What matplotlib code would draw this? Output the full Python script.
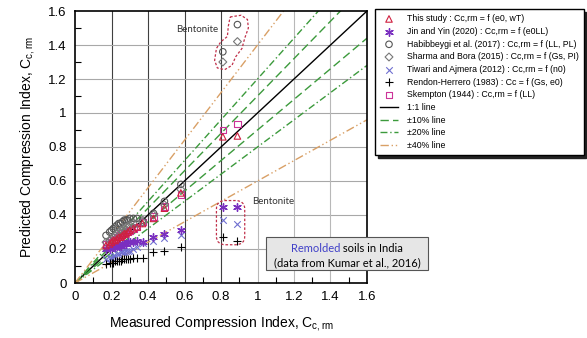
import matplotlib
matplotlib.use("Agg")
import matplotlib.pyplot as plt
import numpy as np
from matplotlib.patches import Polygon, FancyBboxPatch
from matplotlib import font_manager as fm

names = {f.name for f in fm.fontManager.ttflist}
base = 'Liberation Sans' if 'Liberation Sans' in names else 'DejaVu Sans'
narrow = 'Liberation Sans Narrow' if 'Liberation Sans Narrow' in names else base
plt.rcParams['font.family'] = [base, 'DejaVu Sans']
plt.rcParams['mathtext.fontset'] = 'custom'
plt.rcParams['mathtext.rm'] = base
plt.rcParams['mathtext.it'] = base + ':italic'

# ---- data ----
measured = [0.17, 0.19, 0.20, 0.21, 0.22, 0.23, 0.24, 0.25, 0.26, 0.27, 0.28,
            0.29, 0.30, 0.32, 0.34, 0.37, 0.43, 0.49, 0.58, 0.81, 0.89]
this_study = [0.22, 0.23, 0.24, 0.25, 0.25, 0.26, 0.27, 0.27, 0.28, 0.29, 0.29,
              0.30, 0.31, 0.32, 0.33, 0.35, 0.38, 0.44, 0.53, 0.86, 0.865]
jin_yin = [0.20, 0.20, 0.21, 0.21, 0.21, 0.22, 0.22, 0.22, 0.23, 0.23, 0.23,
           0.24, 0.24, 0.24, 0.25, 0.24, 0.27, 0.29, 0.31, 0.45, 0.45]
habibbeygi = [0.28, 0.30, 0.31, 0.32, 0.33, 0.34, 0.35, 0.35, 0.36, 0.37, 0.37,
              0.37, 0.38, 0.38, 0.38, 0.37, 0.41, 0.48, 0.58, 1.36, 1.52]
sharma_bora = [0.24, 0.25, 0.26, 0.27, 0.28, 0.29, 0.30, 0.31, 0.31, 0.32, 0.33,
               0.33, 0.34, 0.35, 0.35, 0.36, 0.40, 0.46, 0.55, 1.30, 1.42]
tiwari = [0.14, 0.15, 0.15, 0.16, 0.16, 0.17, 0.17, 0.18, 0.18, 0.18, 0.19,
          0.19, 0.19, 0.20, 0.21, 0.235, 0.25, 0.265, 0.28, 0.37, 0.35]
rendon = [0.11, 0.12, 0.12, 0.12, 0.13, 0.13, 0.13, 0.13, 0.14, 0.14, 0.14,
          0.14, 0.14, 0.15, 0.15, 0.15, 0.18, 0.19, 0.21, 0.27, 0.25]
skempton = [0.23, 0.24, 0.25, 0.25, 0.26, 0.27, 0.27, 0.28, 0.29, 0.29, 0.30,
            0.30, 0.31, 0.32, 0.33, 0.36, 0.39, 0.45, 0.52, 0.90, 0.935]

labels = ["This study : Cc,rm = f (e0, wT)",
          "Jin and Yin (2020) : Cc,rm = f (e0LL)",
          "Habibbeygi et al. (2017) : Cc,rm = f (LL, PL)",
          "Sharma and Bora (2015) : Cc,rm = f (Gs, PI)",
          "Tiwari and Ajmera (2012) : Cc,rm = f (n0)",
          "Rendon-Herrero (1983) : Cc = f (Gs, e0)",
          "Skempton (1944) : Cc,rm = f (LL)"]
line_labels = ["1:1 line", "\u00b110% line", "\u00b120% line", "\u00b140% line"]
line_factors = [0.10, 0.20, 0.40]
ticks = [0, 0.2, 0.4, 0.6, 0.8, 1, 1.2, 1.4, 1.6]
tick_labels = ["0", "0.2", "0.4", "0.6", "0.8", "1", "1.2", "1.4", "1.6"]

fig = plt.figure(figsize=(5.87, 3.38), dpi=100)
ax = fig.add_axes([75/587, 1-283/338, 292/587, 272/338])
ax.set_xlim(0, 1.6)
ax.set_ylim(0, 1.6)

# grid
for t in ticks[1:-1]:
    ax.axhline(t, color='#a8a8a8', lw=0.8, zorder=0)
    ax.axvline(t, color='#404040' if t <= 0.8 else '#b8b8b8', lw=0.8, zorder=0)

xx = np.array([0, 1.6])
ln1, = ax.plot(xx, xx, color='black', lw=1.0, zorder=2)
green = '#3c9a3c'
orange = '#d9a066'
styles = [(green, (0, (6, 3))), (green, (0, (5, 2, 1, 2))), (orange, (0, (6, 2, 1, 2, 1, 2)))]
line_handles = [ln1]
for f, (c, ls) in zip(line_factors, styles):
    h, = ax.plot(xx, xx * (1 + f), color=c, lw=1.0, ls=ls, zorder=2)
    ax.plot(xx, xx * (1 - f), color=c, lw=1.0, ls=ls, zorder=2)
    line_handles.append(h)

mk = dict(s=22, linewidths=0.8, zorder=3)
h_sk = ax.scatter(measured, skempton, marker='s', facecolors='none', edgecolors='#cc3399', **mk)
h_ha = ax.scatter(measured, habibbeygi, marker='o', facecolors='none', edgecolors='#555555', **mk)
h_sh = ax.scatter(measured, sharma_bora, marker='D', facecolors='none', edgecolors='#777777', s=16, linewidths=0.8, zorder=3)
h_ti = ax.scatter(measured, tiwari, marker='x', color='#6f6fd0', **mk)
h_re = ax.scatter(measured, rendon, marker='+', color='black', s=30, linewidths=0.8, zorder=3)
h_ji = ax.scatter(measured, jin_yin, marker=(6, 2, 0), color='#7a2fc0', s=30, linewidths=1.0, zorder=3)
h_th = ax.scatter(measured, this_study, marker='^', facecolors='none', edgecolors='#d02040', **mk)

# bentonite outlines
upper = [(0.85, 1.565), (0.91, 1.575), (0.945, 1.55), (0.95, 1.50), (0.93, 1.44),
         (0.915, 1.38), (0.88, 1.33), (0.86, 1.28), (0.82, 1.255), (0.78, 1.265),
         (0.765, 1.31), (0.775, 1.38), (0.80, 1.42), (0.835, 1.45), (0.84, 1.51)]
ax.add_patch(Polygon(upper, closed=True, fill=False, edgecolor='#c0304a',
                     ls=(0, (2, 1.5)), lw=0.9, joinstyle='round', zorder=2))
ax.add_patch(FancyBboxPatch((0.775, 0.225), 0.155, 0.26,
                            boxstyle='round,pad=0,rounding_size=0.05',
                            fill=False, edgecolor='#c0304a', ls=(0, (2, 1.5)), lw=0.9,
                            mutation_aspect=1, zorder=2))
ax.text(0.67, 1.49, "Bentonite", fontsize=7, ha='center', va='center', color='#333333',
        family=['Lato', base])
ax.text(1.085, 0.48, "Bentonite", fontsize=7, ha='center', va='center', color='#333333',
        family=['Lato', base])

# info box
bx = FancyBboxPatch((266/587, 1-270/338), 162/587, 33/338, boxstyle='square,pad=0',
                    transform=fig.transFigure, facecolor='#e6e6e6', edgecolor='#555555',
                    lw=0.8, zorder=5)
fig.patches.append(bx)
boxfont = ['Lato', base]
cx = 347
t1 = fig.text(0, 1-249/338, "Remolded", color='#4040c8', fontsize=8, ha='left', va='center',
              zorder=6, family=boxfont)
t2 = fig.text(0, 1-249/338, " soils in India", color='black', fontsize=8, ha='left', va='center',
              zorder=6, family=boxfont)
fig.text(cx/587, 1-263/338, "(data from Kumar et al., 2016)", color='black', fontsize=8,
         ha='center', va='center', zorder=6, family=boxfont)
r = fig.canvas.get_renderer()
w1 = t1.get_window_extent(r).width
w2 = t2.get_window_extent(r).width
start = cx - (w1 + w2) / 2
t1.set_x(start / 587)
t2.set_x((start + w1) / 587)

ax.set_xticks(ticks)
ax.set_xticklabels(tick_labels)
ax.set_yticks(ticks)
ax.set_yticklabels(tick_labels)
ax.set_xticks(np.arange(0.1, 1.6, 0.2), minor=True)
ax.set_yticks(np.arange(0.1, 1.6, 0.2), minor=True)
ax.tick_params(which='major', direction='in', length=0, labelsize=9.5, pad=6)
ax.tick_params(which='minor', direction='in', length=4, width=0.8)
for s in ax.spines.values():
    s.set_linewidth(1.2)

ax.set_xlabel("Measured Compression Index, C$_{\\mathregular{c,rm}}$", fontsize=10, labelpad=8)
ax.set_ylabel("Predicted Compression Index, C$_{\\mathregular{c,rm}}$", fontsize=10, labelpad=8)

handles = [h_th, h_ji, h_ha, h_sh, h_ti, h_re, h_sk] + line_handles
leg = fig.legend(handles, labels + line_labels, loc='upper left',
                 bbox_to_anchor=(375/587, 1-9/338), frameon=True,
                 prop={'family': [narrow, 'DejaVu Sans'], 'size': 6.3},
                 fancybox=False, edgecolor='black', borderpad=0.6, labelspacing=0.42,
                 handlelength=2.0, handletextpad=1.0, borderaxespad=0,
                 shadow={'color': '#222222', 'alpha': 1})
leg.get_frame().set_linewidth(1.0)

fig.savefig("out.png", dpi=100)
